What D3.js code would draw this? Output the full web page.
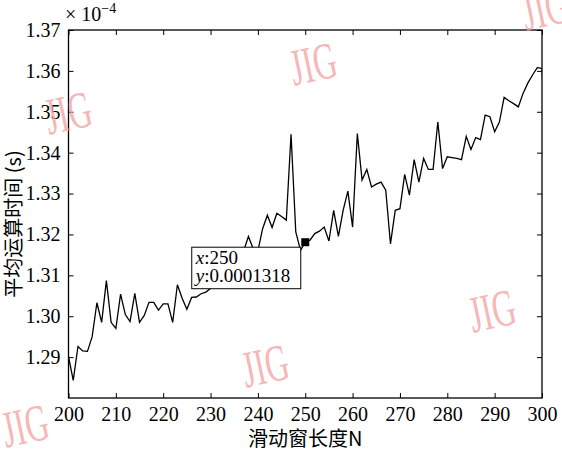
<!DOCTYPE html>
<html>
<head>
<meta charset="utf-8">
<script src="https://cdn.jsdelivr.net/npm/d3@7/dist/d3.min.js"></script>
<style>
  body { margin: 0; background: #fff; }
  text { font-family: "Liberation Serif", "Times New Roman", serif; }
</style>
</head>
<body>
<div id="chart"></div>
<script>

// sliding window length N
var winLen = d3.range(200, 302);

// average run time, in units of 1e-4 s (last point lies past the x limit and is clipped)
var avgTime = [
  1.2901, 1.2843, 1.2926, 1.2915, 1.2914, 1.2950, 1.3033, 1.2985, 1.3087, 1.2985,
  1.2970, 1.3054, 1.3004, 1.2987, 1.3056, 1.2985, 1.3002, 1.3034, 1.3034, 1.3015,
  1.3030, 1.3030, 1.2985, 1.3077, 1.3044, 1.3017, 1.3046, 1.3047, 1.3055, 1.3059,
  1.3068, 1.3080, 1.3092, 1.3105, 1.3118, 1.3130, 1.3145, 1.3160, 1.3195, 1.3165,
  1.3160, 1.3214, 1.3247, 1.3217, 1.3252, 1.3244, 1.3235, 1.3445, 1.3206, 1.3161,
  1.3181, 1.3186, 1.3202, 1.3208, 1.3218, 1.3184, 1.3259, 1.3195, 1.3259, 1.3306,
  1.3218, 1.3447, 1.3333, 1.3359, 1.3316, 1.3323, 1.3328, 1.3308, 1.3177, 1.3259,
  1.3263, 1.3347, 1.3296, 1.3383, 1.3328, 1.3386, 1.3359, 1.3359, 1.3475, 1.3361,
  1.3390, 1.3388, 1.3386, 1.3383, 1.3440, 1.3408, 1.3437, 1.3432, 1.3492, 1.3488,
  1.3451, 1.3475, 1.3535, 1.3527, 1.3520, 1.3512, 1.3545, 1.3570, 1.3590, 1.3608,
  1.3606, 1.3380
];

var xTicks = d3.range(200, 301, 10);
var yTicks = [1.29, 1.30, 1.31, 1.32, 1.33, 1.34, 1.35, 1.36, 1.37];

var xLabel = "滑动窗长度N";
var yLabel = "平均运算时间 (s)";

// data tip
var tipN = 250;
var tipText = [["x", ":250"], ["y", ":0.0001318"]];

var margin = {top: 30, right: 20, bottom: 61, left: 68.5},
    width  = 562,
    height = 459;

var innerWidth = 542 - margin.left;
var innerHeight = height - margin.top - margin.bottom;

var svg = d3.select("#chart").append("svg")
    .attr("width", width)
    .attr("height", height);

var g = svg.append("g")
    .attr("transform", "translate(" + margin.left + "," + margin.top + ")");

var x = d3.scaleLinear().domain([200, 300]).range([0, innerWidth]);
var y = d3.scaleLinear().domain([1.28, 1.37]).range([innerHeight, 0]);

svg.append("defs").append("clipPath")
    .attr("id", "plot-clip")
  .append("rect")
    .attr("width", innerWidth)
    .attr("height", innerHeight);

////////// axes //////////
function styleAxis(sel) {
  sel.attr("font-family", "Liberation Serif").attr("font-size", 20);
  sel.select(".domain").remove();
  sel.selectAll(".tick line").attr("stroke", "#000").attr("stroke-width", 1);
  sel.selectAll(".tick text")
      .attr("fill", "#000")
      .attr("font-family", "Liberation Serif")
      .style("font-family", "Liberation Serif")
      .style("font-size", "20px");
}

g.append("g")
    .attr("transform", "translate(0," + innerHeight + ")")
    .call(d3.axisBottom(x).tickValues(xTicks).tickSize(-5).tickPadding(9).tickFormat(d3.format("d")))
    .call(styleAxis);

g.append("g")
    .call(d3.axisTop(x).tickValues(xTicks).tickSize(-5).tickFormat(""))
    .call(styleAxis);

g.append("g")
    .call(d3.axisLeft(y).tickValues(yTicks).tickSize(-5).tickPadding(8).tickFormat(d3.format(".2f")))
    .call(styleAxis);

g.append("g")
    .attr("transform", "translate(" + innerWidth + ",0)")
    .call(d3.axisRight(y).tickValues(yTicks).tickSize(-5).tickFormat(""))
    .call(styleAxis);

g.append("rect")
    .attr("width", innerWidth)
    .attr("height", innerHeight)
    .attr("fill", "none")
    .attr("stroke", "#000")
    .attr("stroke-width", 1.3);

////////// line //////////
var points = winLen.map(function(n, i) { return {n: n, v: avgTime[i]}; });

var line = d3.line()
    .x(function(d) { return x(d.n); })
    .y(function(d) { return y(d.v); });

g.append("path")
    .datum(points)
    .attr("clip-path", "url(#plot-clip)")
    .attr("fill", "none")
    .attr("stroke", "#000")
    .attr("stroke-width", 1.3)
    .attr("stroke-linejoin", "miter")
    .attr("d", line);

////////// data tip //////////
var tipPt = points[winLen.indexOf(tipN)];

g.append("rect")
    .attr("x", x(tipPt.n) - 4)
    .attr("y", y(tipPt.v) - 4)
    .attr("width", 8)
    .attr("height", 8)
    .attr("fill", "#000");

var tip = g.append("g")
    .attr("transform", "translate(" + (x(tipPt.n) - 113.5) + "," + (y(tipPt.v) + 5) + ")");

tip.append("rect")
    .attr("width", 109)
    .attr("height", 41.5)
    .attr("fill", "#fff")
    .attr("stroke", "#000")
    .attr("stroke-width", 1);

tip.selectAll("text.tip")
    .data(tipText)
    .enter().append("text")
    .attr("class", "tip")
    .attr("x", 4)
    .attr("y", function(d, i) { return 17 + i * 18; })
    .style("font-size", "19px")
    .each(function(d) {
      var t = d3.select(this);
      t.append("tspan").style("font-style", "italic").text(d[0]);
      t.append("tspan").text(d[1]);
    });

////////// labels //////////
svg.append("text")
    .attr("x", margin.left + innerWidth / 2)
    .attr("y", 446)
    .attr("text-anchor", "middle")
    .style("font-size", "20px")
    .style("font-family", "'Noto Sans CJK SC', sans-serif")
    .text(xLabel);

svg.append("text")
    .attr("transform", "translate(21,224) rotate(-90)")
    .attr("text-anchor", "middle")
    .style("font-size", "20px")
    .style("font-family", "'Noto Sans CJK SC', sans-serif")
    .text(yLabel);

var expo = svg.append("text")
    .attr("x", 65)
    .attr("y", 21)
    .style("font-size", "20px");
expo.append("tspan").text("× 10");
expo.append("tspan").attr("dy", -8).style("font-size", "14px").text("−4");

////////// watermarks //////////
var marks = [[313, 63], [68, 112], [545, 8], [492, 310], [265, 365], [25, 425]];

svg.selectAll("text.wm")
    .data(marks)
    .enter().append("text")
    .attr("class", "wm")
    .attr("transform", function(d) {
      return "translate(" + d[0] + "," + d[1] + ") rotate(-12) scale(0.62,1)";
    })
    .attr("text-anchor", "middle")
    .attr("dy", "0.35em")
    .style("font-size", "52px")
    .style("fill", "#f4a0a0")
    .style("opacity", 0.75)
    .text("JIG");

</script>
</body>
</html>
